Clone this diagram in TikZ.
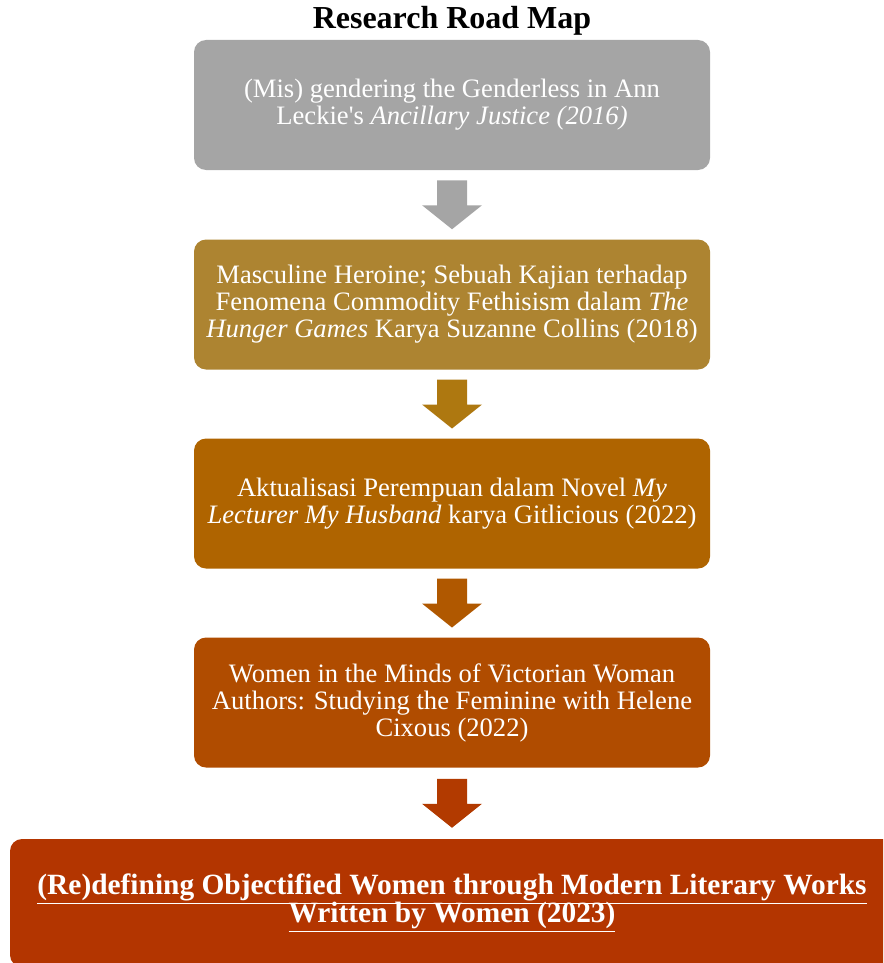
\documentclass[tikz,border=0pt]{standalone}
\usepackage{fontspec}
\setmainfont{Liberation Serif}
\usepackage{tikz}
\usetikzlibrary{calc}

\definecolor{stepgray}{RGB}{165,165,165}
\definecolor{stepgold}{RGB}{173,132,49}
\definecolor{stepochre}{RGB}{175,100,0}
\definecolor{steprust}{RGB}{176,76,0}
\definecolor{stepred}{RGB}{179,53,0}
\definecolor{arrowgold}{RGB}{174,120,16}
\definecolor{arrowochre}{RGB}{176,88,0}
\definecolor{arrowred}{RGB}{178,58,0}

\begin{document}
\begin{tikzpicture}[x=0.5pt,y=-0.5pt,
  paperbox/.style={rounded corners=6pt,minimum width=258pt,minimum height=65pt,
    inner sep=0pt,text=white,align=center,font=\fontsize{13.3}{13.5}\selectfont}]
\useasboundingbox (0,0) rectangle (883,963);
\clip (0,0) rectangle (883,963);
\pgfmathsetmacro{\shaft}{15}
\pgfmathsetmacro{\head}{30}
\node[font=\bfseries\fontsize{16}{18}\selectfont] (title) at (452,21) {Research Road Map};
\node[paperbox,fill=stepgray] (paper1) at (452,105) {(Mis) gendering the Genderless in Ann\\Leckie\textquotesingle s \textit{Ancillary Justice (2016)}};
\node[paperbox,fill=stepgold] (paper2) at (452,304.5) {Masculine Heroine; Sebuah Kajian terhadap\\Fenomena Commodity Fethisism dalam \textit{The}\\\textit{Hunger Games} Karya Suzanne Collins (2018)};
\node[paperbox,fill=stepochre] (paper3) at (452,503.5) {Aktualisasi Perempuan dalam Novel \textit{My}\\\textit{Lecturer My Husband} karya Gitlicious (2022)};
\node[paperbox,fill=steprust] (paper4) at (452,702.5) {Women in the Minds of Victorian Woman\\Authors: Studying the Feminine with Helene\\Cixous (2022)};
\node[paperbox,minimum width=442pt,minimum height=64pt,fill=stepred,
  font=\bfseries\fontsize{14.7}{14.5}\selectfont] (thesis) at (452,903)
  {\underline{(Re)defining Objectified Women through Modern Literary Works}\\[-2.5pt]\underline{Written by Women (2023)}};
% Arrows
\foreach \from/\to/\col in {paper1/paper2/stepgray,paper2/paper3/arrowgold,paper3/paper4/arrowochre,paper4/thesis/arrowred}{
  \path (\from.south) -- (\to.north) coordinate[midway] (mid);
  \fill[\col] ($(mid)+(-\shaft,-24.5)$) -- ++(2*\shaft,0) -- ++(0,25) -- ++(\head-\shaft,0)
    -- ++(-\head,24) -- ++(-\head,-24) -- ++(\head-\shaft,0) -- cycle;
}
\end{tikzpicture}
\end{document}
